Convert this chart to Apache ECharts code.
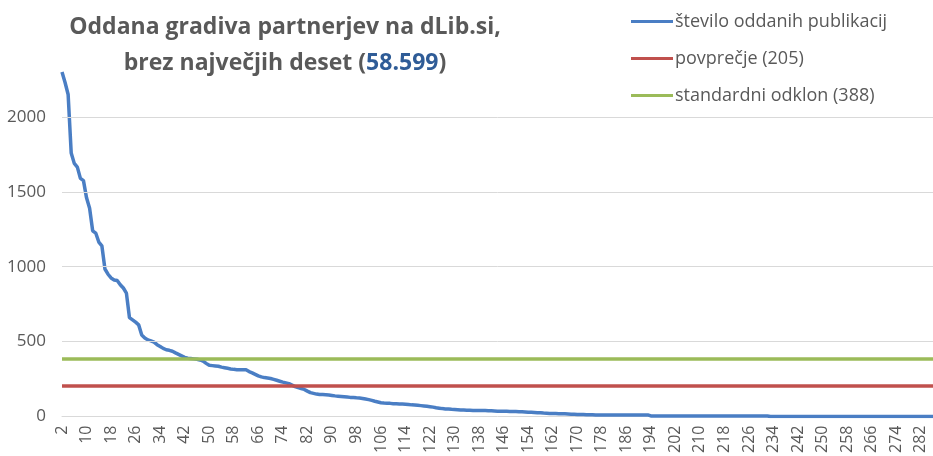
<!DOCTYPE html>
<html>
<head>
<meta charset="utf-8">
<script src="https://cdn.jsdelivr.net/npm/echarts@6/dist/echarts.min.js"></script>
<style>
  html, body { margin: 0; padding: 0; background: #fff; }
  #chart { width: 933px; height: 456px; }
</style>
</head>
<body>
<div id="chart"></div>
<script>
// število oddanih publikacij, urejeno padajoče (brez največjih deset)
const values = [
  2300, 2230, 2150, 1760, 1690, 1665, 1590, 1575, 1460, 1390,
  1240, 1225, 1165, 1140, 985, 950, 925, 912, 908, 880,
  858, 824, 660, 645, 630, 612, 545, 525, 512, 505,
  497, 480, 468, 455, 446, 442, 436, 425, 415, 405,
  395, 389, 387, 385, 383, 378, 370, 355, 342, 340,
  338, 336, 330, 326, 322, 318, 315, 313, 313, 313,
  312, 300, 292, 282, 272, 265, 260, 257, 254, 248,
  242, 236, 230, 225, 220, 210, 200, 193, 187, 181,
  170, 160, 155, 150, 147, 147, 146, 144, 141, 138,
  136, 134, 132, 130, 128, 127, 125, 124, 121, 117,
  113, 108, 102, 97, 92, 90, 89, 88, 86, 85,
  84, 83, 82, 80, 78, 77, 75, 73, 71, 69,
  66, 63, 59, 56, 53, 51, 50, 48, 47, 46,
  44, 43, 42, 42, 41, 41, 41, 40, 40, 39,
  38, 37, 36, 36, 35, 35, 34, 33, 33, 32,
  32, 31, 29, 28, 27, 26, 25, 23, 22, 21,
  20, 20, 19, 19, 18, 17, 16, 15, 14, 13,
  13, 12, 12, 12, 11, 11, 11, 11, 11, 11,
  11, 11, 11, 11, 11, 11, 11, 11, 11, 11,
  11, 11, 4, 4, 4, 4, 4, 4, 4, 4,
  4, 4, 4, 4, 4, 4, 4, 4, 4, 4,
  4, 4, 4, 4, 4, 4, 4, 4, 4, 4,
  4, 4, 4, 4, 4, 4, 4, 4, 4, 4,
  4, 1, 1, 1, 1, 1, 1, 1, 1, 1,
  1, 1, 1, 1, 1, 1, 1, 1, 1, 1,
  1, 1, 1, 1, 1, 1, 1, 1, 1, 1,
  1, 1, 1, 1, 1, 1, 1, 1, 1, 1,
  1, 1, 1, 1, 1, 1, 1, 1, 1, 1,
  1, 1, 1, 1, 1
];
// zaporedne številke partnerjev (začnejo se z 2)
const categories = values.map((v, i) => String(i + 2));
const seriesNames = ['število oddanih publikacij', 'povprečje (205)', 'standardni odklon (388)'];
const mean = 205;
const stdDev = 388;
const yTicks = [500, 1000, 1500, 2000];

const textColor = '#595959';
const font = 'Open Sans';

const chart = echarts.init(document.getElementById('chart'));

const noMark = {
  symbol: 'none',
  silent: true,
  animation: false,
  label: { show: false },
  emphasis: { disabled: true },
};

chart.setOption({
  animation: false,
  backgroundColor: '#ffffff',
  title: {
    left: 280,
    top: 4,
    textAlign: 'center',
    text: '{a|Oddana gradiva partnerjev na dLib.si,}\n{a|brez največjih deset (}{b|58.599}{a|)}',
    textStyle: {
      rich: {
        a: { fontFamily: font, fontWeight: 'bold', fontSize: 23, color: textColor, lineHeight: 36 },
        b: { fontFamily: font, fontWeight: 'bold', fontSize: 23, color: '#2F5C97', lineHeight: 36 },
      },
    },
  },
  legend: {
    data: seriesNames,
    orient: 'vertical',
    left: 626,
    top: 5,
    icon: 'rect',
    itemWidth: 42,
    itemHeight: 3,
    itemGap: 14,
    textStyle: { fontFamily: font, fontSize: 18, color: textColor, lineHeight: 23, padding: [0, 0, 0, -3] },
  },
  grid: { left: 62, right: 0, top: 69, bottom: 39 },
  xAxis: {
    type: 'category',
    data: categories,
    boundaryGap: false,
    axisLine: { lineStyle: { color: '#D9D9D9', width: 1 } },
    axisTick: { show: false },
    axisLabel: {
      interval: 7,
      rotate: 90,
      margin: 9,
      fontFamily: font,
      fontSize: 16,
      color: textColor,
    },
  },
  yAxis: {
    type: 'value',
    min: 0,
    max: 2320,
    interval: 500,
    axisLine: { show: false },
    axisTick: { show: false },
    splitLine: { show: false },
    axisLabel: {
      showMaxLabel: false,
      margin: 16,
      fontFamily: font,
      fontSize: 17,
      color: textColor,
      formatter: v => String(v),
    },
  },
  series: [
    {
      name: 'mreža',
      type: 'line',
      data: [],
      z: 1,
      markLine: Object.assign({}, noMark, {
        lineStyle: { color: '#D9D9D9', width: 1, type: 'solid' },
        data: yTicks.map(v => ({ yAxis: v })),
      }),
    },
    {
      name: seriesNames[0],
      type: 'line',
      data: values,
      symbol: 'none',
      z: 3,
      lineStyle: { color: '#4A7EC4', width: 3.5 },
      itemStyle: { color: '#4A7EC4' },
    },
    {
      name: seriesNames[1],
      type: 'line',
      data: [],
      symbol: 'none',
      z: 3,
      itemStyle: { color: '#C0504D' },
      lineStyle: { color: '#C0504D', width: 3.5 },
      markLine: Object.assign({}, noMark, {
        lineStyle: { color: '#C0504D', width: 3.5, type: 'solid' },
        data: [{ yAxis: mean }],
      }),
    },
    {
      name: seriesNames[2],
      type: 'line',
      data: [],
      symbol: 'none',
      z: 3,
      itemStyle: { color: '#9BBB59' },
      lineStyle: { color: '#9BBB59', width: 3.5 },
      markLine: Object.assign({}, noMark, {
        lineStyle: { color: '#9BBB59', width: 3.5, type: 'solid' },
        data: [{ yAxis: stdDev }],
      }),
    },
  ],
});
</script>
</body>
</html>
